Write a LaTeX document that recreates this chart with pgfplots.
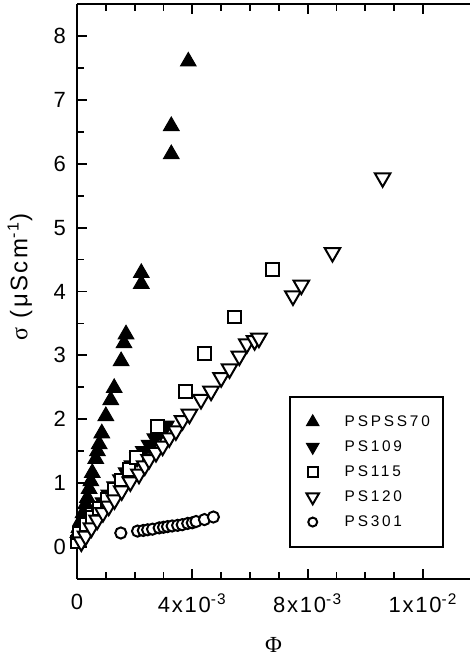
\documentclass[border=0pt]{standalone}
\usepackage{fontspec}
\setmainfont{Liberation Sans}
\newfontfamily\seriffont{Liberation Serif}
\newfontfamily\legfont[LetterSpace=18]{Liberation Sans}
\newfontfamily\tickfont[LetterSpace=8]{Liberation Sans}
\newfontfamily\labfont[LetterSpace=10]{Liberation Sans}
\newfontfamily\labserif[LetterSpace=10]{Liberation Serif}
\usepackage{pgfplots}
\pgfplotsset{compat=1.18}
\begin{document}
\begin{tikzpicture}
\begin{axis}[
  scale only axis, width=196.5pt, height=287.5pt,
  xmin=0, xmax=0.01363, ymin=-0.5, ymax=8.5,
  axis x line=box, axis y line=left,
  axis line style={-, line width=1pt},
  xtick={0,0.004,0.008,0.012},
  xticklabels={0, 4x10\textsuperscript{-3}, 8x10\textsuperscript{-3}, 1x10\textsuperscript{-2}},
  scaled x ticks=false,
  minor x tick num=3,
  ytick={0,1,2,3,4,5,6,7,8}, minor y tick num=1,
  tick align=inside, xtick pos=both, ytick pos=left,
  major tick length=5pt, minor tick length=3.5pt,
  every tick/.style={black, line width=0.9pt},
  /pgf/number format/assume math mode=true,
  tick label style={font=\tickfont\fontsize{11}{13}\selectfont},
  xticklabel style={yshift=-4pt},
  yticklabel style={xshift=-2pt},
  xlabel={{\seriffont Φ}},
  ylabel={{\labserif σ} (μScm\textsuperscript{-1})},
  every axis x label/.style={at={(axis description cs:0.5,-0.115)}, anchor=center, font=\fontsize{11.5}{13}\selectfont},
  every axis y label/.style={at={(axis description cs:-0.145,0.525)}, rotate=90, anchor=center, font=\labfont\fontsize{12}{14}\selectfont},
  legend style={at={(rel axis cs:0.539,0.318)}, anchor=north west,
    draw=black, line width=0.9pt, inner xsep=4pt, inner ysep=6.5pt,
    font=\legfont\fontsize{7.7}{9}\selectfont,
    nodes={inner xsep=2.5pt, inner ysep=1.5pt, text height=6.5pt, text depth=2.5pt},
    row sep=0.5pt},
  legend image code/.code={%
    \draw[only marks, /tikz/every mark/.append style={scale=0.8}] plot coordinates {(7.5pt,0pt)};
    \path[draw=none, fill=none] (0pt,0pt) -- (21pt,0pt);},
  legend cell align=left,
  clip=false,
]
\addplot[only marks, mark=triangle*, mark size=4.5pt, mark options={draw=black, fill=black, line width=0.5pt}] table {
x y
0.03e-3 0.22
0.07e-3 0.30
0.13e-3 0.41
0.21e-3 0.53
0.30e-3 0.67
0.36e-3 0.77
0.42e-3 0.91
0.48e-3 1.03
0.53e-3 1.16
0.65e-3 1.38
0.71e-3 1.50
0.77e-3 1.61
0.86e-3 1.78
1.00e-3 2.05
1.17e-3 2.30
1.29e-3 2.49
1.53e-3 2.91
1.63e-3 3.19
1.70e-3 3.33
2.23e-3 4.12
2.23e-3 4.29
3.27e-3 6.15
3.27e-3 6.59
3.86e-3 7.60
};
\addlegendentry{PSPSS70}
\addplot[only marks, mark=triangle*, mark size=4.5pt, mark options={rotate=180, draw=black, fill=black, line width=0.5pt}] table {
x y
0.10e-3 0.18
0.30e-3 0.32
0.50e-3 0.45
0.70e-3 0.58
0.90e-3 0.70
1.10e-3 0.82
1.30e-3 0.95
1.50e-3 1.06
1.70e-3 1.17
1.90e-3 1.28
2.10e-3 1.40
2.30e-3 1.50
2.50e-3 1.60
2.70e-3 1.70
2.90e-3 1.80
3.10e-3 1.90
};
\addlegendentry{PS109}
\addplot[only marks, mark=square*, mark size=3.2pt, mark options={draw=black, fill=white, line width=1pt}] table {
x y
0.00e-3 0.08
0.10e-3 0.22
0.32e-3 0.35
0.55e-3 0.46
0.78e-3 0.60
1.05e-3 0.75
1.30e-3 0.90
1.55e-3 1.05
1.80e-3 1.22
2.05e-3 1.40
2.79e-3 1.89
3.76e-3 2.44
4.42e-3 3.03
5.46e-3 3.60
6.77e-3 4.35
};
\addlegendentry{PS115}
\addplot[only marks, mark=triangle*, mark size=4.5pt, mark options={rotate=180, draw=black, fill=white, line width=1pt}] table {
x y
0.15e-3 0.08
0.30e-3 0.17
0.50e-3 0.30
0.70e-3 0.42
0.90e-3 0.54
1.10e-3 0.64
1.30e-3 0.74
1.55e-3 0.88
1.85e-3 1.02
2.15e-3 1.14
2.35e-3 1.27
2.50e-3 1.37
2.74e-3 1.48
2.97e-3 1.58
3.20e-3 1.71
3.43e-3 1.82
3.66e-3 1.98
3.90e-3 2.08
4.30e-3 2.31
4.65e-3 2.44
5.00e-3 2.65
5.29e-3 2.79
5.63e-3 2.99
5.89e-3 3.18
6.16e-3 3.23
6.31e-3 3.27
7.49e-3 3.93
7.78e-3 4.10
8.86e-3 4.61
10.6e-3 5.78
};
\addlegendentry{PS120}
\addplot[only marks, mark=*, mark size=2.8pt, mark options={draw=black, fill=white, line width=1pt}] table {
x y
1.52e-3 0.22
2.10e-3 0.25
2.30e-3 0.26
2.45e-3 0.27
2.62e-3 0.28
2.85e-3 0.30
3.00e-3 0.31
3.14e-3 0.32
3.30e-3 0.33
3.49e-3 0.34
3.65e-3 0.35
3.84e-3 0.37
4.00e-3 0.38
4.13e-3 0.40
4.42e-3 0.43
4.73e-3 0.47
};
\addlegendentry{PS301}
\end{axis}
\pgfresetboundingbox
\path[use as bounding box] ([xshift=-38.5pt,yshift=-39pt]current axis.south west) rectangle ([yshift=2pt]current axis.north east);
\end{tikzpicture}
\end{document}
